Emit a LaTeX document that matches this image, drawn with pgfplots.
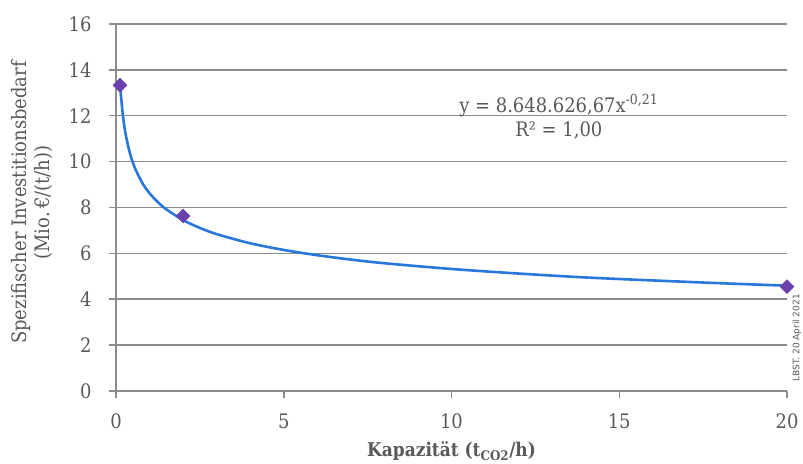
\documentclass[border=0pt]{standalone}
\usepackage{pgfplots}
\pgfplotsset{compat=1.18}
\usepackage{fontspec}
\setmainfont{DejaVu Serif Condensed}
\newfontfamily\wmfont{DejaVu Sans}
\definecolor{txt}{HTML}{595959}
\definecolor{gridc}{HTML}{8C8C8C}
\definecolor{curve}{HTML}{2878DC}
\definecolor{mark}{HTML}{6A40AC}
\begin{document}
\begin{tikzpicture}
\path[use as bounding box] (0,0) rectangle (803bp,464bp);
\begin{axis}[
  at={(116bp,73bp)}, anchor=south west,
  scale only axis, width=671bp, height=367bp,
  xmin=0, xmax=20, ymin=0, ymax=16,
  xtick={0,5,10,15,20}, ytick={0,2,...,16},
  axis x line*=bottom, axis y line*=left,
  axis line style={draw=gridc, line width=1.5bp, -},
  ymajorgrids, major grid style={draw=gridc, line width=1.5bp},
  tick style={draw=gridc, line width=1.5bp},
  tick align=outside, major tick length=7bp,
  /pgf/number format/assume math mode=true,
  ticklabel style={font=\fontsize{20}{22}\selectfont, text=txt},
  xticklabel style={yshift=-12bp},
  yticklabel style={xshift=-14bp},
  xlabel={\textbf{Kapazität (t\textsubscript{CO2}/h)}},
  xlabel style={font=\fontsize{19}{22}\selectfont, text=txt, yshift=-6bp},
  ylabel={Spezifischer Investitionsbedarf\\(Mio.\,€/(t/h))},
  ylabel style={font=\fontsize{20}{23}\selectfont, text=txt, align=center, yshift=9bp, xshift=5bp},
  clip=false,
]
\addplot[curve, line width=2.6bp, smooth] coordinates {
 (0.12,13.3) (0.15,12.84) (0.2,12.09) (0.25,11.53) (0.3,11.10) (0.4,10.45)
 (0.5,9.97) (0.6,9.60) (0.8,9.03) (1,8.62) (1.25,8.23) (1.5,7.92) (2,7.45)
 (2.5,7.11) (3,6.84) (4,6.44) (5,6.15) (6,5.92) (7,5.73) (8,5.57) (10,5.32)
 (12,5.12) (14,4.95) (16,4.82) (18,4.70) (20,4.59)
};
\addplot[only marks, mark=square*, mark size=5bp, mark options={fill=mark, draw=mark, rotate=45}] coordinates {
 (0.12,13.33) (2,7.63) (20,4.55)
};
\node[text=txt, font=\fontsize{20}{25}\selectfont, align=center] at (axis cs:13.2,11.95)
  {y = 8.648.626,67x\textsuperscript{-0,21}\\R² = 1,00};
\node[text=txt, font=\wmfont\fontsize{9}{10}\selectfont, rotate=90, anchor=north west] at ([xshift=2bp,yshift=6bp]rel axis cs:1,0) {LBST. 20 April 2021};
\end{axis}
\end{tikzpicture}
\end{document}
